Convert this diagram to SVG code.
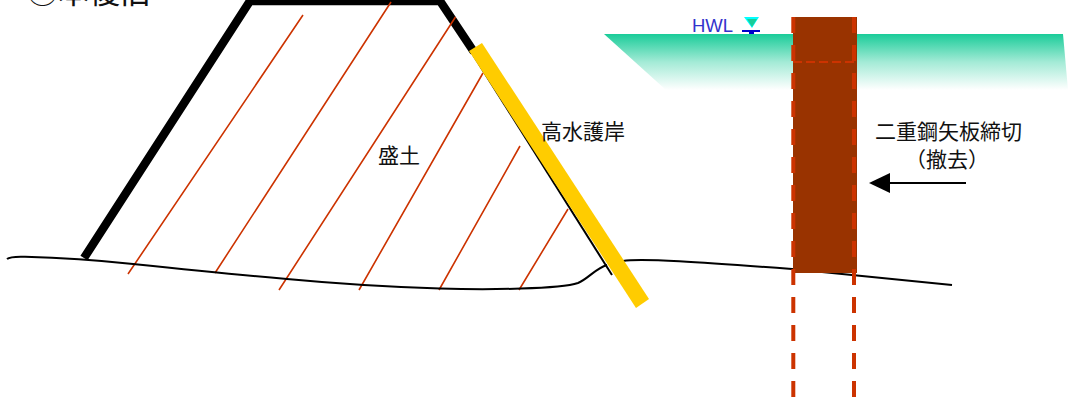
<svg xmlns="http://www.w3.org/2000/svg" width="1068" height="397" viewBox="0 0 1068 397">
<style>
.t{font-family:"Liberation Sans","Noto Sans CJK JP",sans-serif;font-size:21px;fill:#111}
.h{fill:none;stroke:#cc3300;stroke-width:1.6}
.g{fill:none;stroke:#000;stroke-width:2}
.k{fill:none;stroke:#000;stroke-width:8.5}
.d{fill:none;stroke:#cc3300;stroke-width:4;stroke-dasharray:16 12}
</style>
<defs>
<linearGradient id="w" x1="0" y1="0" x2="0" y2="1"><stop offset="0" stop-color="#1acc99"/><stop offset="0.5" stop-color="#1acc99" stop-opacity="0.4"/><stop offset="1" stop-color="#1acc99" stop-opacity="0"/></linearGradient>
</defs>
<rect width="1068" height="397" fill="#fff"/>
<g id="water"><polygon points="604,34 1063,34 1068,90 666,90" fill="url(#w)"/></g>
<g id="title"><text class="t" x="27" y="3" style="font-size:31px">⑥本復旧</text></g>
<g id="embankment">
<path class="k" d="M84,258 L250,1 L440,1 L474,52"/>
<path class="g" d="M470,50 L612,275"/>
<path class="h" d="M303,15 L128,274 M391,2 L215,273 M455.500,17 L279,290 M483,73 L359,290 M520,146 L439,290 M568,209 L519,290"/>
<text class="t" x="378" y="163">盛土</text>
</g>
<g id="ground"><path class="g" d="M7,259 C10,256.500 16,256.500 25,256.800 C70,258 100,260.500 133,264 C190,270 240,275 287,279 C340,284 390,287 440,288.500 C490,290 560,289 578,283 C588,279 596,268 607,265 M623,261 C640,258 700,262 792,269 L952,285"/></g>
<g id="revetment">
<polygon points="482,43 649,299 636,308 469,51" fill="#ffcc00"/>
<text class="t" x="541" y="139">高水護岸</text>
</g>
<g id="cofferdam">
<rect x="793" y="17" width="64" height="256" fill="#993300"/>
<path class="d" d="M793.300,17 V397 M854,17 V397"/>
<path fill="none" stroke="#cc3300" stroke-width="2" stroke-dasharray="9 4" d="M793,62 H856"/>
<text class="t" x="875" y="139">二重鋼矢板締切</text>
<text class="t" x="905" y="167">（撤去）</text>
</g>
<g id="hwl">
<text x="692" y="32" style="font-family:'Liberation Sans',sans-serif;font-size:18.500px;fill:#3333cc">HWL</text>
<polygon points="744,17 759,17 752,28" fill="#00ffff"/>
<polygon points="747,19 757,19 752,27" fill="#1acc99"/>
<path stroke="#0000cc" stroke-width="2" d="M742,31 H760"/>
<rect x="749" y="31" width="5" height="3" fill="#0000cc"/>
</g>
<g id="connectors"><path stroke="#000" stroke-width="2" d="M890,183 H966"/><polygon points="869,183 890,173 890,193" fill="#000"/></g>
</svg>
